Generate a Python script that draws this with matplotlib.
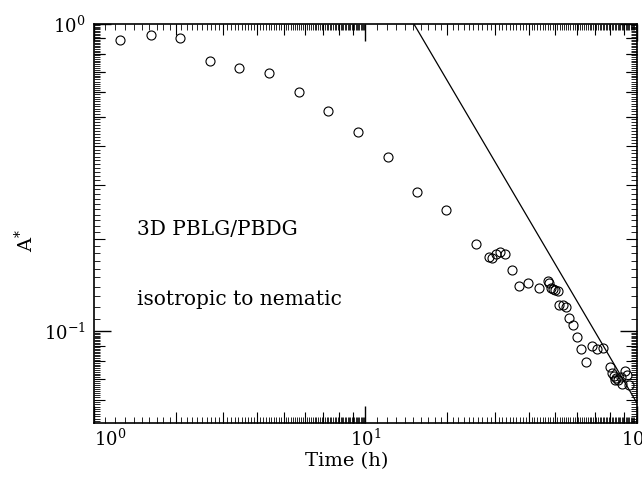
import matplotlib
matplotlib.use('Agg')
import matplotlib.pyplot as plt
import numpy as np
from matplotlib.ticker import FixedLocator, NullFormatter

plt.rcParams['font.family'] = 'DejaVu Serif'
plt.rcParams['mathtext.fontset'] = 'dejavuserif'

time_h = [1.25, 1.62, 2.08, 2.68, 3.43, 4.42, 5.68, 7.30, 9.39, 12.1, 15.5, 19.9,
          25.6, 28.6, 29.4, 30.2, 31.4, 32.8, 34.6, 36.9, 39.8, 43.6,
          47.2, 47.6, 48.2, 49.0, 50.1, 51.2, 51.9, 53.3, 54.8, 56.4, 58.1,
          60.1, 62.3, 64.9, 68.3, 71.2, 75.3, 79.7, 80.9, 82.5, 83.2, 83.9,
          85.6, 87.5, 88.3, 90.6, 91.9, 93.9]
a_star = [0.887, 0.923, 0.903, 0.760, 0.719, 0.693, 0.601, 0.523, 0.446, 0.369, 0.284, 0.249,
          0.193, 0.175, 0.1735, 0.178, 0.181, 0.179, 0.158, 0.141, 0.144, 0.138,
          0.146, 0.144, 0.139, 0.137, 0.136, 0.135, 0.122, 0.1215, 0.120, 0.111, 0.1046,
          0.0959, 0.0877, 0.0796, 0.0898, 0.0879, 0.0887, 0.0764, 0.0732, 0.0718, 0.0694, 0.0706,
          0.0697, 0.0711, 0.0675, 0.0745, 0.0722, 0.0671]

# power law guide line A* = (t/t0)^n
fit_t0 = 15.1
fit_exp = -1.5
fit_tmax = 100.0

xlim = (1, 100)
ylim = (0.0505, 1)
x_major = [1, 10, 100]
x_major_labels = ['$10^0$', '$10^1$', '$10^2$']
y_major = [0.1, 1]
y_major_labels = ['$10^{-1}$', '$10^0$']

x_mid = [k * 10.0**d for d in (0, 1) for k in range(2, 10)]
y_mid = [k * 10.0**d for d in (-2, -1) for k in range(5, 10)] + [k * 0.1 for k in range(2, 10)]
x_fine = [round(j * 0.1, 1) * 10.0**d for d in (0, 1) for j in range(10, 100)]
y_fine = [round(j * 0.001, 3) for j in range(50, 100)] + [round(j * 0.01, 2) for j in range(10, 100)]

fig = plt.figure(figsize=(6.42, 4.83), dpi=100)
pos = [0.1464, 0.1248, 0.8454, 0.8255]
ax = fig.add_axes(pos)

ax.plot(time_h, a_star, 'o', mfc='none', mec='black', ms=6.5, mew=0.8, zorder=3)
tfit = np.array([fit_t0, fit_tmax])
ax.plot(tfit, (tfit / fit_t0)**fit_exp, 'k-', lw=0.9)

ax.set_xscale('log')
ax.set_yscale('log')
ax.set_xlim(*xlim)
ax.set_ylim(*ylim)

ax.xaxis.set_major_locator(FixedLocator(x_major))
ax.set_xticklabels(x_major_labels)
ax.yaxis.set_major_locator(FixedLocator(y_major))
ax.set_yticklabels(y_major_labels)
ax.xaxis.set_minor_locator(FixedLocator(x_mid))
ax.yaxis.set_minor_locator(FixedLocator(y_mid))
ax.xaxis.set_minor_formatter(NullFormatter())
ax.yaxis.set_minor_formatter(NullFormatter())
ax.tick_params(which='both', direction='in', top=True, right=True, labelsize=13)
ax.tick_params(axis='x', which='major', pad=4)
ax.tick_params(axis='y', which='major', pad=6)
ax.tick_params(which='major', length=12, width=1.0)
ax.tick_params(which='minor', length=8, width=0.8)
for s in ax.spines.values():
    s.set_linewidth(1.2)

# overlay axes only for the fine ticks
ax2 = fig.add_axes(pos)
ax2.set_xscale('log')
ax2.set_yscale('log')
ax2.set_xlim(*xlim)
ax2.set_ylim(*ylim)
ax2.patch.set_visible(False)
for s in ax2.spines.values():
    s.set_visible(False)
ax2.xaxis.set_major_locator(FixedLocator(x_fine))
ax2.yaxis.set_major_locator(FixedLocator(y_fine))
ax2.xaxis.set_minor_locator(FixedLocator([]))
ax2.yaxis.set_minor_locator(FixedLocator([]))
ax2.tick_params(which='major', direction='in', top=True, right=True, length=4, width=0.6,
                labelbottom=False, labelleft=False)

ax.xaxis.get_major_ticks()[0].label1.set_horizontalalignment('left')

ax.set_xlabel('Time (h)', fontsize=14)
ax.xaxis.set_label_coords(0.466, -0.074)
ax.set_ylabel('A$^{*}$', fontsize=14)
ax.yaxis.set_label_coords(-0.105, 0.458)

ax.text(0.079, 0.471, '3D PBLG/PBDG', transform=ax.transAxes, fontsize=14.5, va='baseline')
ax.text(0.079, 0.294, 'isotropic to nematic', transform=ax.transAxes, fontsize=14.5, va='baseline')

fig.savefig('out.png', dpi=100)
